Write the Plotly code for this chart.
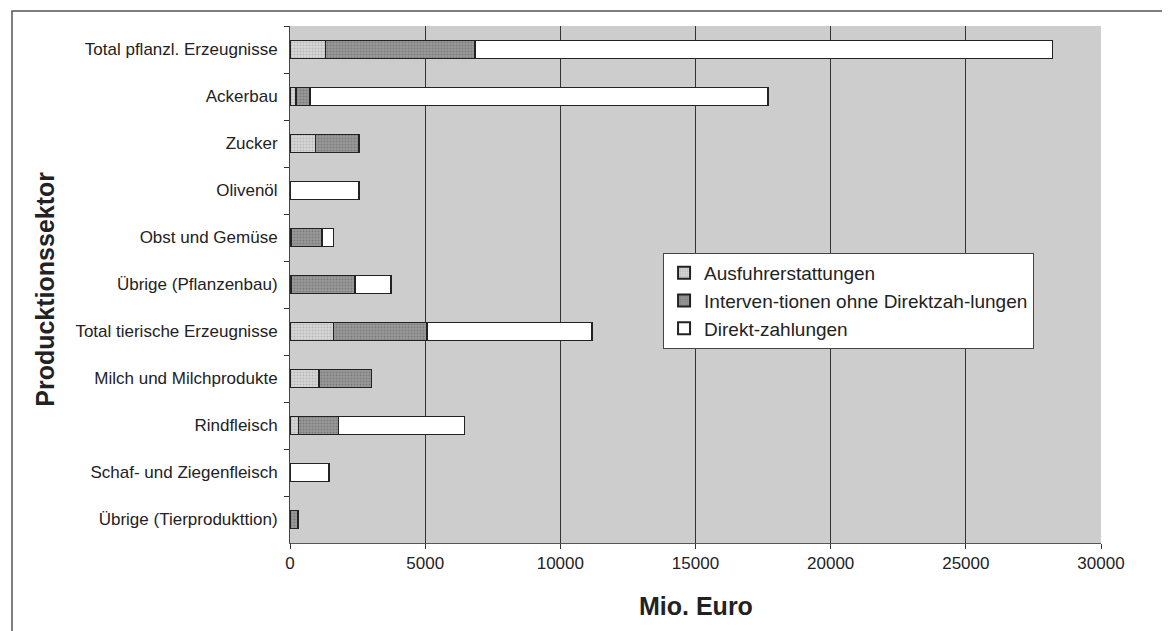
import plotly.graph_objects as go

categories = [
    "Total pflanzl. Erzeugnisse", "Ackerbau", "Zucker", "Olivenöl", "Obst und Gemüse",
    "Übrige (Pflanzenbau)", "Total tierische Erzeugnisse", "Milch und Milchprodukte",
    "Rindfleisch", "Schaf- und Ziegenfleisch", "Übrige (Tierprodukttion)",
]
ausfuhr = [1320, 220, 950, 0, 30, 50, 1600, 1070, 310, 0, 0]
intervention = [5530, 520, 1600, 0, 1150, 2350, 3460, 1950, 1480, 0, 300]
direkt = [21350, 16950, 0, 2550, 430, 1330, 6110, 0, 4660, 1450, 0]

series_names = ["Ausfuhrerstattungen", "Interven-tionen ohne Direktzah-lungen", "Direkt-zahlungen"]
x_ticks = [0, 5000, 10000, 15000, 20000, 25000, 30000]

FONT = "Liberation Sans, Arial, sans-serif"

fig = go.Figure()
styles = [
    dict(color="#c9c9c9", pattern=dict(shape=".", fgcolor="#9a9a9a", bgcolor="#d6d6d6", size=3, solidity=0.35)),
    dict(color="#858585", pattern=dict(shape=".", fgcolor="#5e5e5e", bgcolor="#9a9a9a", size=3, solidity=0.4)),
    dict(color="#ffffff"),
]
for name, vals, st in zip(series_names, [ausfuhr, intervention, direkt], styles):
    fig.add_trace(go.Bar(
        y=categories, x=vals, name=name, orientation="h",
        marker=dict(line=dict(color="#222222", width=1.5), **st),
    ))

fig.update_layout(
    width=1170, height=631,
    margin=dict(l=282, r=77, t=18, b=96),
    barmode="stack", bargap=0.62,
    paper_bgcolor="white", plot_bgcolor="#cdcdcd",
    font=dict(family=FONT, size=17, color="#222222"),
    showlegend=True,
    legend=dict(
        x=0.46, y=0.561, xanchor="left", yanchor="top",
        bgcolor="white", bordercolor="#444444", borderwidth=1,
        font=dict(size=19, family=FONT, color="#222222"),
        traceorder="normal", itemsizing="constant", itemwidth=30,
    ),
    xaxis=dict(
        range=[0, 30000], tickvals=x_ticks, ticktext=[str(v) for v in x_ticks],
        showgrid=True, gridcolor="#333333", gridwidth=1,
        showline=True, linecolor="#555555", linewidth=1,
        ticks="outside", ticklen=5, tickcolor="#333333",
        zeroline=False, tickfont=dict(size=17),
    ),
    yaxis=dict(
        autorange="reversed", type="category",
        showline=True, linecolor="#444444", linewidth=1,
        ticks="outside", ticklen=5, tickcolor="#333333", tickson="boundaries",
        ticklabelstandoff=8,
        showgrid=False, tickfont=dict(size=17),
    ),
    shapes=[dict(
        type="rect", xref="paper", yref="paper",
        x0=-0.3428, x1=1.11, y0=-0.25, y1=1.029,
        line=dict(color="#555555", width=1.5), fillcolor="rgba(0,0,0,0)", layer="below",
    )],
    annotations=[
        dict(text="<b>Producktionssektor</b>", xref="paper", yref="paper",
             x=-0.302, y=0.49, textangle=-90, showarrow=False,
             xanchor="center", yanchor="middle",
             font=dict(size=25, family=FONT, color="#222222")),
        dict(text="<b>Mio. Euro</b>", xref="paper", yref="paper",
             x=0.5, y=-0.122, showarrow=False, xanchor="center", yanchor="middle",
             font=dict(size=25, family=FONT, color="#222222")),
    ],
)

fig.write_html("out.html")
